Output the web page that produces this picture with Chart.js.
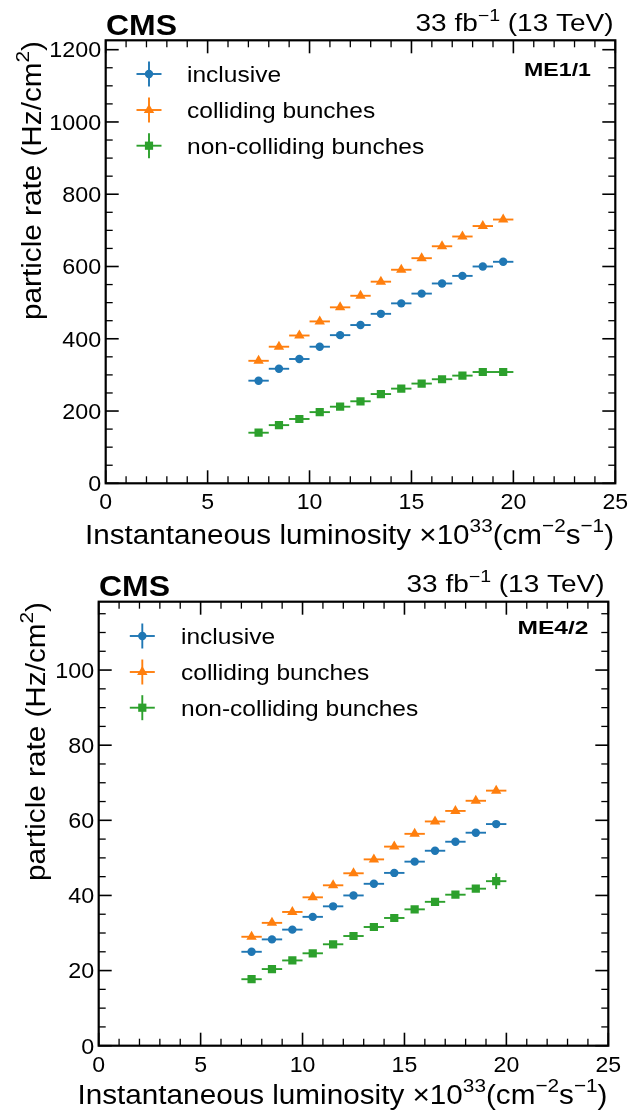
<!DOCTYPE html>
<html><head><meta charset="utf-8">
<script src="https://cdn.jsdelivr.net/npm/chart.js@4.4.1/dist/chart.umd.min.js"></script>
<style>html,body{margin:0;padding:0;background:#fff;overflow:hidden}canvas{display:block}</style>
</head><body>
<canvas id="c1" width="629" height="557"></canvas>
<canvas id="c2" width="629" height="557"></canvas>
<script>
// ---------- data ----------
const lumi = [7.5, 8.5, 9.5, 10.5, 11.5, 12.5, 13.5, 14.5, 15.5, 16.5, 17.5, 18.5, 19.5];
const lumiErr = [0.5, 0.5, 0.5, 0.5, 0.5, 0.5, 0.5, 0.5, 0.5, 0.5, 0.5, 0.5, 0.5];

const me11Inclusive    = [284, 317, 344, 378, 410, 438, 469, 498, 525, 553, 574, 600, 613];
const me11Colliding    = [339, 378, 409, 448, 487, 519, 558, 591, 623, 656, 683, 712, 730];
const me11NonColliding = [140, 161, 178, 197, 212, 227, 247, 262, 276, 288, 298, 308, 308];
const me11InclusiveErr    = [2, 2, 2, 2, 2, 2, 2, 2, 2, 2, 2, 2, 3];
const me11CollidingErr    = [2, 2, 2, 2, 2, 2, 2, 2, 2, 2, 2, 2, 3];
const me11NonCollidingErr = [2, 2, 2, 2, 2, 2, 2, 2, 2, 2, 2, 2, 3];

const me42Inclusive    = [25.0, 28.3, 30.9, 34.3, 37.1, 40.0, 43.1, 46.0, 49.0, 51.9, 54.3, 56.7, 59.0];
const me42Colliding    = [29.0, 32.7, 35.6, 39.5, 42.7, 45.9, 49.6, 53.0, 56.4, 59.7, 62.5, 65.2, 67.9];
const me42NonColliding = [17.7, 20.4, 22.7, 24.6, 27.0, 29.2, 31.6, 34.0, 36.3, 38.3, 40.2, 41.8, 43.8];
const me42InclusiveErr    = [0.2, 0.2, 0.2, 0.2, 0.2, 0.2, 0.2, 0.2, 0.2, 0.2, 0.2, 0.3, 0.4];
const me42CollidingErr    = [0.2, 0.2, 0.2, 0.2, 0.2, 0.2, 0.2, 0.2, 0.2, 0.2, 0.2, 0.3, 0.4];
const me42NonCollidingErr = [0.2, 0.2, 0.2, 0.2, 0.2, 0.2, 0.2, 0.2, 0.2, 0.3, 0.4, 0.6, 2.1];

const seriesNames = ['inclusive', 'colliding bunches', 'non-colliding bunches'];
const xTickLabels = ['0', '5', '10', '15', '20', '25'];
const me11YTickLabels = ['0', '200', '400', '600', '800', '1000', '1200'];
const me42YTickLabels = ['0', '20', '40', '60', '80', '100'];

// ---------- styling ----------
const COLORS = ['#1f77b4', '#ff7f0e', '#2ca02c'];
const STYLES = [{ps: 'circle', r: 4.2}, {ps: 'triangle', r: 6}, {ps: 'rect', r: 5.8}];
const FONT = '"Liberation Sans", Arial, Helvetica, sans-serif';

function drawRich(ctx, parts, x, y, o) {
  const size = o.size, bold = o.bold ? 'bold ' : '';
  const supSize = size * 0.7;
  let w = 0;
  const widths = parts.map(p => {
    ctx.font = bold + (p.sup ? supSize : size) + 'px ' + FONT;
    const m = ctx.measureText(p.t).width; w += m; return m;
  });
  const s = o.width ? o.width / w : (o.stretch || 1);
  ctx.save();
  ctx.translate(x, y);
  if (o.rotate) ctx.rotate(-Math.PI / 2);
  ctx.scale(s, 1);
  ctx.fillStyle = '#000';
  ctx.textBaseline = 'alphabetic';
  ctx.textAlign = 'left';
  let cur = o.align === 'right' ? -w : (o.align === 'center' ? -w / 2 : 0);
  parts.forEach((p, i) => {
    ctx.font = bold + (p.sup ? supSize : size) + 'px ' + FONT;
    ctx.fillText(p.t, cur, p.sup ? -size * 0.42 : 0);
    cur += widths[i];
  });
  ctx.restore();
}

function line(ctx, x1, y1, x2, y2) {
  ctx.beginPath(); ctx.moveTo(x1, y1); ctx.lineTo(x2, y2); ctx.stroke();
}

function panelPlugin(cfg) {
  return {
    id: 'panel',
    beforeDatasetsDraw(chart) {
      const ctx = chart.ctx, xs = chart.scales.x, ys = chart.scales.y;
      ctx.save();
      ctx.lineWidth = 1.9;
      chart.data.datasets.forEach((ds, di) => {
        ctx.strokeStyle = COLORS[di];
        ds.data.forEach((p, i) => {
          const px = xs.getPixelForValue(p.x), py = ys.getPixelForValue(p.y);
          line(ctx, xs.getPixelForValue(p.x - ds.xErr[i]), py, xs.getPixelForValue(p.x + ds.xErr[i]), py);
          line(ctx, px, ys.getPixelForValue(p.y - ds.yErr[i]), px, ys.getPixelForValue(p.y + ds.yErr[i]));
        });
      });
      ctx.restore();
    },
    afterDraw(chart) {
      const ctx = chart.ctx, xs = chart.scales.x, ys = chart.scales.y;
      const {left, right, top, bottom} = chart.chartArea;
      ctx.save();
      ctx.strokeStyle = '#000';
      ctx.lineWidth = 1.6;
      xTickLabels.forEach(l => {
        const px = xs.getPixelForValue(+l);
        line(ctx, px, bottom, px, bottom - 13); line(ctx, px, top, px, top + 13);
      });
      cfg.yLabels.forEach(l => {
        const py = ys.getPixelForValue(+l);
        line(ctx, left, py, left + 13, py); line(ctx, right, py, right - 13, py);
      });
      ctx.lineWidth = 1.3;
      for (let v = xs.min; v <= xs.max; v += 1) {
        if (v % 5 === 0) continue;
        const px = xs.getPixelForValue(v);
        line(ctx, px, bottom, px, bottom - 7); line(ctx, px, top, px, top + 7);
      }
      for (let v = 0; v <= ys.max; v += cfg.yMinor) {
        if (v % cfg.yMajor === 0) continue;
        const py = ys.getPixelForValue(v);
        line(ctx, left, py, left + 7, py); line(ctx, right, py, right - 7, py);
      }
      ctx.lineWidth = 2.2;
      ctx.strokeRect(left, top, right - left, bottom - top);
      ctx.restore();

      // tick labels
      xTickLabels.forEach(l => {
        drawRich(ctx, [{t: l}], xs.getPixelForValue(+l), bottom + 26, {size: 22, align: 'center', stretch: 1.05});
      });
      cfg.yLabels.forEach(l => {
        drawRich(ctx, [{t: l}], left - 4.5, ys.getPixelForValue(+l) + 7.8, {size: 22, align: 'right', stretch: 1.06});
      });

      // axis titles
      drawRich(ctx, [{t: 'Instantaneous luminosity ×10'}, {t: '33', sup: true}, {t: '(cm'}, {t: '−2', sup: true}, {t: 's'}, {t: '−1', sup: true}, {t: ')'}],
        cfg.xTitle.x, cfg.xTitle.y, {size: 27.5, align: 'right', width: cfg.xTitle.w});
      drawRich(ctx, [{t: 'particle rate (Hz/cm'}, {t: '2', sup: true}, {t: ')'}],
        cfg.yTitle.x, cfg.yTitle.y, {size: 27.5, align: 'right', width: cfg.yTitle.w, rotate: true});

      // header
      drawRich(ctx, [{t: 'CMS'}], cfg.cms.x, cfg.cms.y, {size: 30, bold: true, width: 71});
      drawRich(ctx, [{t: '33 fb'}, {t: '−1', sup: true}, {t: ' (13 TeV)'}], cfg.lumiTxt.x, cfg.lumiTxt.y, {size: 23.5, align: 'right', width: 198});
      drawRich(ctx, [{t: cfg.station}], cfg.st.x, cfg.st.y, {size: 19, bold: true, align: 'right', width: cfg.st.w});

      // legend
      ctx.save();
      seriesNames.forEach((name, i) => {
        const lx = cfg.leg.x, ly = cfg.leg.ys[i];
        ctx.strokeStyle = COLORS[i]; ctx.lineWidth = 1.9;
        line(ctx, lx - 12.5, ly, lx + 12.5, ly);
        line(ctx, lx, ly - 12.5, lx, ly + 12.5);
        ctx.fillStyle = COLORS[i];
        Chart.helpers.drawPoint(ctx, {pointStyle: STYLES[i].ps, radius: STYLES[i].r, rotation: 0, borderWidth: 0}, lx, ly);
        drawRich(ctx, [{t: name}], cfg.leg.tx, ly + 8.3, {size: 22.5, stretch: 1.09});
      });
      ctx.restore();
    }
  };
}

function makeChart(id, cfg) {
  const sets = [cfg.inc, cfg.col, cfg.non];
  const errs = [cfg.incErr, cfg.colErr, cfg.nonErr];
  return new Chart(document.getElementById(id), {
    type: 'scatter',
    data: {
      datasets: sets.map((vals, i) => ({
        label: seriesNames[i],
        data: lumi.map((x, j) => ({x: x, y: vals[j]})),
        xErr: lumiErr,
        yErr: errs[i],
        pointStyle: STYLES[i].ps,
        pointRadius: STYLES[i].r,
        pointBorderWidth: 0,
        backgroundColor: COLORS[i],
        borderColor: COLORS[i],
        showLine: false
      }))
    },
    options: {
      responsive: false,
      animation: false,
      devicePixelRatio: 1,
      events: [],
      layout: {padding: cfg.padding},
      plugins: {legend: {display: false}, tooltip: {enabled: false}, title: {display: false}},
      scales: {
        x: {type: 'linear', min: 0, max: 25, display: false},
        y: {type: 'linear', min: 0, max: cfg.ymax, display: false}
      }
    },
    plugins: [panelPlugin(cfg)]
  });
}

makeChart('c1', {
  inc: me11Inclusive, col: me11Colliding, non: me11NonColliding,
  incErr: me11InclusiveErr, colErr: me11CollidingErr, nonErr: me11NonCollidingErr,
  padding: {left: 105.7, top: 40.3, right: 13.7, bottom: 73.7},
  ymax: 1226, yLabels: me11YTickLabels, yMajor: 200, yMinor: 50,
  station: 'ME1/1', st: {x: 591, y: 76, w: 67},
  xTitle: {x: 614, y: 543.5, w: 529},
  yTitle: {x: 41, y: 41, w: 279},
  cms: {x: 106, y: 35},
  lumiTxt: {x: 613.5, y: 31},
  leg: {x: 149, ys: [74, 110, 145.7], tx: 187}
});

makeChart('c2', {
  inc: me42Inclusive, col: me42Colliding, non: me42NonColliding,
  incErr: me42InclusiveErr, colErr: me42CollidingErr, nonErr: me42NonCollidingErr,
  padding: {left: 98.7, top: 44.7, right: 20.7, bottom: 68.3},
  ymax: 118.2, yLabels: me42YTickLabels, yMajor: 20, yMinor: 5,
  station: 'ME4/2', st: {x: 588.5, y: 77, w: 71},
  xTitle: {x: 607.5, y: 546.5, w: 530},
  yTitle: {x: 45, y: 45, w: 279},
  cms: {x: 99, y: 39},
  lumiTxt: {x: 604.5, y: 34.5},
  leg: {x: 142.3, ys: [79, 115, 150.7], tx: 181}
});
</script>
</body></html>
